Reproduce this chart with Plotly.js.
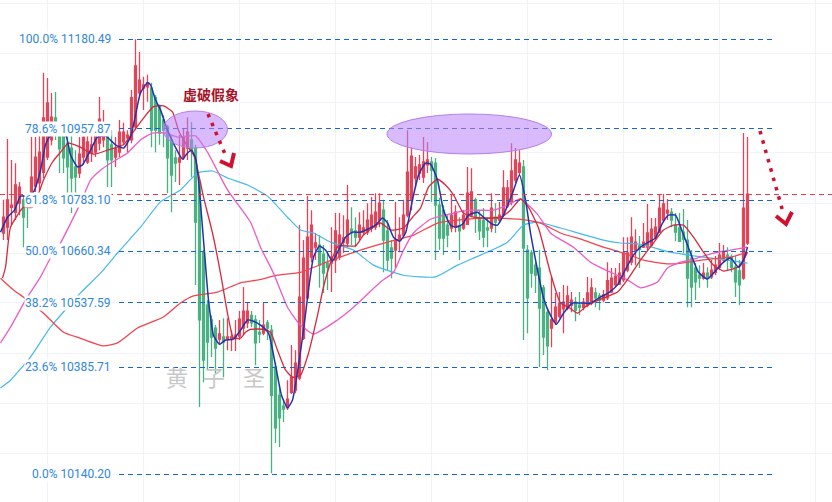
<!DOCTYPE html>
<html><head><meta charset="utf-8">
<script src="https://cdn.plot.ly/plotly-3.0.1.min.js"></script>
<style>html,body{margin:0;padding:0;background:#fff;overflow:hidden}#c{width:832px;height:502px}
.js-line[style*="dasharray"]{shape-rendering:crispEdges}</style>
</head><body><div id="c"></div>
<script>
const open_=[10704,10718,10766,10754,10776,10784,10784,10800,10817,10825,10851,10888,10930,10984,10942,10942,10922,10910,10864,10849,10888,10876,10898,10900,10922,10930,10940,10918,10888,10900,10925,10935,10930,10962,11046,11058,11061,11058,11034,11012,10979,10962,10930,10886,10876,10886,10910,10930,10910,10825,10658,10532,10497,10478,10452,10457,10452,10452,10454,10459,10478,10490,10508,10497,10468,10466,10490,10473,10387,10321,10296,10292,10328,10333,10361,10454,10549,10646,10670,10675,10653,10632,10632,10639,10646,10682,10680,10713,10709,10694,10706,10706,10716,10718,10735,10759,10709,10668,10663,10687,10699,10747,10784,10837,10849,10839,10869,10876,10873,10771,10759,10723,10716,10718,10721,10716,10725,10747,10784,10740,10735,10716,10716,10742,10735,10747,10769,10779,10832,10851,10864,10663,10656,10627,10620,10573,10515,10478,10492,10506,10523,10525,10532,10539,10532,10527,10532,10537,10561,10554,10544,10549,10563,10580,10582,10592,10615,10634,10663,10673,10670,10670,10675,10694,10706,10735,10752,10754,10723,10716,10706,10687,10644,10620,10603,10596,10608,10599,10610,10622,10639,10651,10646,10622,10613,10596,10680];
const high_=[10784,10932,10881,10873,10827,10796,10789,10937,10937,10942,11096,11083,11046,11048,10967,10967,10954,10942,10905,10937,10942,10940,10940,10954,11036,11004,10954,10954,10937,10979,10972,10954,11053,11180,11148,11086,11091,11071,11041,11017,10991,10967,10942,10905,10942,10959,10986,10974,10918,10832,10663,10544,10508,10485,10497,10501,10501,10473,10497,10518,10575,10537,10518,10508,10497,10537,10497,10485,10398,10344,10310,10356,10438,10426,10723,10687,10793,10759,10704,10699,10675,10656,10718,10752,10752,10747,10820,10766,10742,10754,10759,10776,10791,10800,10800,10784,10735,10687,10779,10742,10784,10954,10912,10888,10893,10937,10925,10888,10886,10789,10771,10747,10796,10771,10742,10759,10864,10861,10789,10759,10764,10742,10800,10776,10779,10856,10832,10922,10910,10905,10881,10675,10663,10634,10663,10580,10525,10599,10561,10563,10580,10578,10563,10551,10563,10549,10599,10596,10573,10561,10568,10634,10620,10620,10632,10694,10694,10742,10713,10697,10728,10774,10740,10740,10798,10798,10786,10764,10752,10752,10762,10735,10663,10632,10627,10632,10622,10639,10649,10680,10675,10670,10653,10649,10639,10947,10937];
const low_=[10687,10687,10723,10735,10747,10670,10716,10784,10803,10808,10837,10881,10917,10930,10849,10849,10800,10752,10800,10837,10869,10871,10876,10888,10905,10912,10815,10815,10864,10888,10918,10900,10922,10954,11039,11004,11024,10912,10900,10918,10912,10800,10754,10827,10820,10881,10881,10839,10580,10294,10351,10380,10410,10373,10438,10363,10426,10424,10424,10450,10461,10478,10480,10391,10443,10461,10450,10142,10211,10202,10259,10287,10324,10326,10356,10450,10544,10634,10639,10573,10561,10568,10563,10608,10639,10656,10670,10675,10670,10687,10699,10699,10706,10711,10718,10610,10615,10596,10620,10658,10694,10742,10759,10813,10832,10825,10849,10779,10639,10663,10651,10670,10706,10706,10639,10711,10723,10742,10704,10687,10670,10670,10706,10704,10728,10742,10764,10771,10825,10844,10450,10466,10573,10561,10387,10415,10380,10433,10485,10501,10466,10520,10515,10494,10508,10520,10527,10532,10527,10520,10539,10544,10561,10575,10580,10587,10610,10627,10627,10620,10668,10663,10670,10689,10704,10730,10735,10718,10684,10684,10656,10527,10527,10544,10573,10592,10573,10594,10603,10615,10632,10615,10610,10551,10532,10592,10675];
const close_=[10742,10784,10771,10820,10815,10742,10771,10839,10888,10900,10984,11021,10986,10942,10908,10886,10864,10837,10839,10895,10937,10925,10918,10940,10981,10940,10881,10881,10910,10949,10949,10942,11034,11113,11078,11066,11071,10954,10954,10947,10954,10886,10844,10873,10886,10937,10949,10905,10730,10497,10403,10445,10457,10431,10464,10445,10457,10457,10461,10499,10518,10518,10490,10443,10464,10485,10478,10321,10246,10269,10289,10312,10363,10396,10551,10644,10694,10723,10680,10627,10608,10622,10646,10709,10699,10692,10735,10704,10694,10723,10716,10735,10747,10754,10776,10687,10639,10644,10687,10699,10747,10851,10890,10864,10869,10876,10881,10856,10771,10692,10692,10699,10747,10754,10709,10747,10800,10803,10740,10709,10694,10711,10764,10730,10747,10813,10813,10854,10881,10873,10668,10549,10608,10603,10525,10457,10436,10497,10527,10537,10539,10554,10544,10520,10527,10539,10561,10573,10549,10544,10556,10590,10596,10601,10608,10656,10656,10694,10682,10665,10682,10704,10713,10718,10764,10774,10759,10735,10706,10684,10689,10596,10575,10587,10596,10608,10596,10615,10627,10651,10658,10639,10622,10587,10580,10764,10798];

const fibLabels=["100.0%","78.6%","61.8%","50.0%","38.2%","23.6%","0.0%"];
const fibLevels=[11180.49,10957.87,10783.10,10660.34,10537.59,10385.71,10140.20];
const gridPrices=[11271.2,11145.4,11021.1,10898.0,10776.3,10656.0,10537.1,10419.4,10303.1,10188.1];

const fastX=[-0.75,1,2.75,4.25,5.5,7.5,9.25,10.5,11.75,15.5,16.75,18.5,19.75,21.75,23.5,25.5,28,30,31.75,33,34.25,36,36.75,38,39.25,41,43,44.75,46,47,48,48.75,50,51.25,52.5,54,55.5,57.5,59.25,61,62.5,64.25,66.25,68,69.5,71,72.25,73.5,75,76.25,77.5,79,80.5,82.25,83.75,85.5,87.25,89.25,91,93,94.75,96,97.5,99,100.5,102.25,103.75,105.5,106.75,108.5,110,111.75,113,114.75,116.25,118.5,120,122.25,123.5,125,127.25,129,130.5,131.75,133.5,135,136.75,138.25,140,142.25,144.25,146.75,149.25,151.25,153.5,155,157.5,159.25,161.25,163,164.75,166.25,168,169.75,171.75,173.75,176,177.5,179.75,181.75,183.75,185,186];
const fastY=[10706,10742,10759,10793,10793,10803,10856,10918,10940,10942,10893,10864,10869,10905,10937,10940,10918,10910,10937,10991,11046,11071,11066,11029,11004,10954,10912,10883,10898,10905,10886,10832,10687,10544,10461,10440,10450,10452,10473,10497,10494,10485,10466,10391,10321,10292,10310,10375,10473,10568,10646,10673,10663,10637,10663,10694,10706,10706,10713,10723,10740,10728,10694,10684,10704,10784,10844,10873,10871,10832,10759,10723,10718,10725,10747,10754,10742,10725,10723,10747,10800,10844,10784,10704,10615,10549,10508,10487,10513,10537,10537,10537,10551,10561,10580,10608,10651,10670,10682,10692,10728,10747,10747,10706,10656,10610,10594,10608,10632,10644,10622,10639,10670];

const midX=[-0.25,0.5,1.25,1.75,5,7.25,10,12.25,14.25,16.25,19.25,22.5,26,30,32.25,34.25,37.5,40,42.25,43.75,45.5,47.5,48,50,52.25,54.25,56,57.5,59.25,60.5,61.75,65,66.75,68.5,70.5,72.25,74.25,76.25,78.5,80,81.75,83.75,88,90,94.25,96.75,100,102.25,104.25,106.25,108.5,110.5,112.5,115,117.5,121,124.25,126.75,129.25,131.25,133.75,136.75,139.25,141.25,143.5,146,150,153.5,156.25,159.25,162.5,165,167.5,170,172.5,175,177.5,180,183.5,185,186];
const midY=[10596,10622,10687,10718,10766,10766,10832,10876,10900,10922,10912,10895,10905,10918,10947,10974,11012,11014,10999,10954,10922,10893,10881,10791,10704,10608,10513,10454,10454,10468,10475,10475,10468,10426,10380,10363,10368,10419,10508,10575,10632,10673,10673,10699,10728,10711,10716,10742,10764,10815,10834,10820,10796,10752,10742,10740,10742,10759,10786,10766,10716,10608,10537,10527,10513,10532,10549,10563,10596,10639,10680,10711,10723,10723,10694,10658,10627,10613,10622,10639,10658];

const pinkX=[-0.75,1.75,5.5,9.25,11.75,14.25,19.25,21.75,24.25,26.75,31,34.25,37.25,40.5,43.5,48,51,56,61.75,64.25,67.5,71,73.75,77.5,83.5,87.5,94.25,97.5,100,102.5,106.75,112.5,116.75,122.5,126,129.25,133.5,136.75,138.25,142.5,146.75,151.75,156,159.25,163.5,166,169.25,173.5,177.5,181.75,186];
const pinkY=[10443,10480,10544,10599,10644,10680,10776,10832,10856,10873,10898,10930,10947,10947,10937,10940,10900,10808,10730,10670,10608,10527,10490,10464,10497,10527,10587,10610,10663,10704,10737,10752,10759,10759,10771,10786,10749,10704,10694,10670,10634,10610,10592,10573,10587,10620,10634,10644,10656,10663,10670];

const slowX=[-0.75,2.5,6,10,15,19.25,25,28.5,33.5,40,44.25,47.5,53.5,59.25,63.75,68.5,74.25,81.5,89.25,96,102.5,108.5,113.5,121,129.25,134.25,139.25,145,150,155,160,164.25,167.5,171,176,181.75,186];
const slowY=[10596,10568,10544,10513,10468,10454,10436,10443,10478,10504,10537,10554,10563,10585,10592,10603,10610,10637,10663,10682,10699,10728,10735,10740,10737,10728,10704,10687,10670,10656,10639,10632,10630,10634,10641,10646,10658];

const skyX=[-0.75,1.75,6.75,11.75,19.25,24.25,28.5,34.25,39.25,44.25,48.5,52.25,56,61,66,71,74.25,77.5,81.75,87.5,92.5,100,108,113.5,119.25,126,130,133.5,139.25,150,154.25,159.25,166.75,175,181,186];
const skyY=[10338,10356,10410,10480,10561,10608,10656,10718,10779,10808,10849,10854,10837,10820,10793,10742,10711,10704,10682,10663,10627,10603,10599,10627,10651,10682,10723,10730,10716,10687,10680,10677,10658,10646,10639,10632];

const noteText="虚破假象";
const watermark=["黄","子","圣"];

const W=832,H=502;
const idx=px=>(px-3.5)/4;
const px2x=px=>px/W, px2y=py=>1-py/H;
const path=pts=>pts.map((p,i)=>(i?'L':'M')+px2x(p[0]).toFixed(5)+','+px2y(p[1]).toFixed(5)).join(' ');
const xs=open_.map((_,i)=>i);

const line=(x,y,color,width)=>({type:'scatter',mode:'lines',x,y,hoverinfo:'skip',showlegend:false,
  line:{color,width,shape:'spline',smoothing:0.5}});

const traces=[
 {type:'candlestick',x:xs,open:open_,high:high_,low:low_,close:close_,width:0.5,whiskerwidth:0,showlegend:false,hoverinfo:'skip',
  increasing:{line:{color:'#e2445a',width:1.3},fillcolor:'#e2445a'},
  decreasing:{line:{color:'#4bb183',width:1.3},fillcolor:'#4bb183'}},
 line(skyX,skyY,'#45b9ea',1.2),
 line(slowX,slowY,'#f04550',1.3),
 line(pinkX,pinkY,'#ec5cc4',1.3),
 line(midX,midY,'#d9283c',1.3),
 line(fastX,fastY,'#2234a8',1.5),
];
fibLevels.forEach(v=>traces.push({type:'scatter',mode:'lines',x:[idx(119),idx(775)],y:[v,v],hoverinfo:'skip',showlegend:false,
  line:{color:'#1368d0',width:1,dash:'5px,4px'}}));
const last=close_[close_.length-1];
traces.push({type:'scatter',mode:'lines',x:[idx(0),idx(832)],y:[last,last],hoverinfo:'skip',showlegend:false,
  line:{color:'#f0394d',width:1,dash:'5px,4px'}});

const anns=fibLevels.map((v,i)=>({xref:'x',yref:'y',x:idx(112),y:Math.log10(v),xanchor:'right',yanchor:'middle',showarrow:false,
  text:fibLabels[i]+' '+v.toFixed(2),bgcolor:'#ffffff',borderpad:0,
  font:{family:'Roboto, sans-serif',size:12,color:'#2f86e2'}}));
anns.push({xref:'paper',yref:'paper',x:px2x(211),y:px2y(93.5),xanchor:'center',yanchor:'middle',showarrow:false,text:noteText,
  font:{family:'"Noto Sans CJK SC"',size:14,color:'#a5142a',weight:700}});
watermark.forEach((t,i)=>anns.push({xref:'paper',yref:'paper',x:px2x([177,214,254][i]),y:px2y(376),xanchor:'center',yanchor:'middle',showarrow:false,text:t,
  font:{family:'"Noto Sans CJK SC"',size:22,color:'#c8c8c8',weight:400}}));

const dots={color:'#cf1030',width:3.5,dash:'3.5px,6.2px'};
const head={color:'#cf1030',width:4};
const shapes=[
 {type:'circle',xref:'paper',yref:'paper',x0:px2x(163),x1:px2x(227.5),y0:px2y(111),y1:px2y(148),fillcolor:'rgba(186,130,250,0.55)',line:{color:'#b67fe8',width:1},layer:'above'},
 {type:'circle',xref:'paper',yref:'paper',x0:px2x(387),x1:px2x(551.5),y0:px2y(114),y1:px2y(154),fillcolor:'rgba(186,130,250,0.55)',line:{color:'#b67fe8',width:1},layer:'above'},
 {type:'path',xref:'paper',yref:'paper',path:path([[208,114],[225,154]]),line:dots,layer:'above'},
 {type:'path',xref:'paper',yref:'paper',path:path([[220,161],[231,166],[234,153]]),line:head,layer:'above'},
 {type:'path',xref:'paper',yref:'paper',path:path([[760,131],[783,212]]),line:dots,layer:'above'},
 {type:'path',xref:'paper',yref:'paper',path:path([[776,216],[786,224],[792,212]]),line:head,layer:'above'},
];

const priceTop=10140.2*Math.exp(474/4454), priceBottom=10140.2*Math.exp(-28/4454);
const layout={width:W,height:H,margin:{l:0,r:0,t:0,b:0},paper_bgcolor:'#fff',plot_bgcolor:'#fff',showlegend:false,
 xaxis:{type:'linear',range:[idx(0),idx(832)],tick0:11,dtick:24,showgrid:true,gridcolor:'#f0f3fa',gridwidth:1,zeroline:false,showticklabels:false,ticks:'',showline:false,rangeslider:{visible:false},fixedrange:true},
 yaxis:{type:'log',range:[Math.log10(priceBottom),Math.log10(priceTop)],tickmode:'array',tickvals:gridPrices,showgrid:true,gridcolor:'#f0f3fa',gridwidth:1,zeroline:false,showticklabels:false,ticks:'',showline:false,fixedrange:true},
 annotations:anns,shapes};
Plotly.newPlot('c',traces,layout,{staticPlot:true,displayModeBar:false});
</script></body></html>
